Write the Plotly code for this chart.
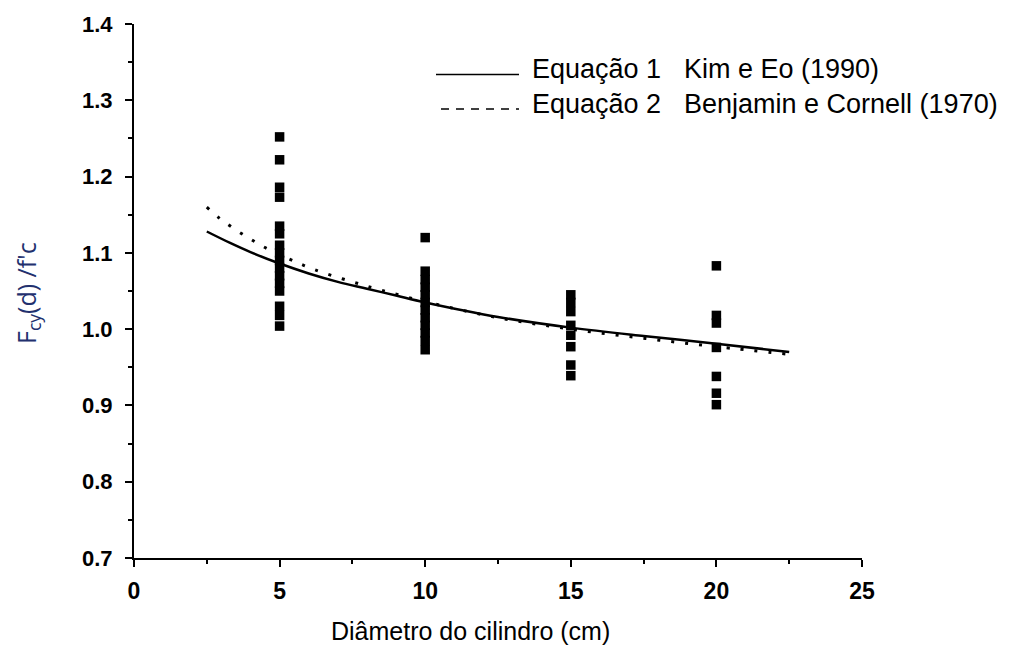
import plotly.graph_objects as go

# ---- data ----
diam_5 = [5] * 16
vals_5 = [1.252, 1.222, 1.186, 1.173, 1.135, 1.125, 1.11, 1.10, 1.09, 1.08,
          1.07, 1.06, 1.05, 1.03, 1.018, 1.004]
diam_10 = [10] * 12
vals_10 = [1.120, 1.076, 1.065, 1.055, 1.045, 1.035, 1.025, 1.015, 1.005,
           0.995, 0.985, 0.973]
diam_15 = [15] * 8
vals_15 = [1.045, 1.035, 1.023, 1.005, 0.992, 0.977, 0.953, 0.939]
diam_20 = [20] * 7
vals_20 = [1.083, 1.018, 1.008, 0.976, 0.938, 0.916, 0.901]

eq1_x = [2.5, 3.3, 4, 5, 6, 7, 8, 9, 10, 12.5, 15, 17.5, 20, 22.5]
eq1_y = [1.128, 1.113, 1.101, 1.086, 1.073, 1.062, 1.053, 1.044, 1.035, 1.016,
         1.002, 0.991, 0.981, 0.970]

eq2_x = [2.5, 2.95, 3.5, 4.0, 4.5, 5.5, 6.0, 6.5, 7.5, 8.5, 10, 12.5, 15, 17.5, 20, 22.5]
eq2_y = [1.160, 1.145, 1.130, 1.118, 1.107, 1.089, 1.081, 1.074, 1.062, 1.051,
         1.036, 1.015, 1.000, 0.988, 0.977, 0.967]

legend_labels = ["Equação 1", "Equação 2"]
legend_refs = ["Kim e Eo (1990)", "Benjamin e Cornell (1970)"]

x_ticks = [0, 5, 10, 15, 20, 25]
y_ticks = [0.7, 0.8, 0.9, 1.0, 1.1, 1.2, 1.3, 1.4]

x_title = "Diâmetro do cilindro (cm)"
y_title = "F<sub>cy</sub>(d) /f'c"

# plot-area geometry in pixels (for converting legend/title placement)
L, R, T, B = 134, 862, 18, 558
PW, PH = R - L, B - T


def px(xp):
    return (xp - L) / PW


def py(yp):
    return (B - yp) / PH


fig = go.Figure()

pts_x = diam_5 + diam_10 + diam_15 + diam_20
pts_y = vals_5 + vals_10 + vals_15 + vals_20
fig.add_trace(go.Scatter(x=pts_x, y=pts_y, mode="markers",
                         marker=dict(symbol="square", size=9.5, color="black",
                                     line=dict(width=0)),
                         showlegend=False, cliponaxis=False))
fig.add_trace(go.Scatter(x=eq2_x, y=eq2_y, mode="lines",
                         line=dict(color="black", width=3, dash="3px,11px", shape="spline"),
                         showlegend=False))
fig.add_trace(go.Scatter(x=eq1_x, y=eq1_y, mode="lines",
                         line=dict(color="black", width=2.5, shape="spline"),
                         showlegend=False))

# legend drawn manually (long sample lines, two text columns)
fig.add_shape(type="line", xref="paper", yref="paper",
              x0=px(436), x1=px(519), y0=py(69), y1=py(69),
              line=dict(color="black", width=1.5))
fig.add_shape(type="line", xref="paper", yref="paper",
              x0=px(441), x1=px(519), y0=py(104), y1=py(104),
              line=dict(color="black", width=1.5, dash="8px,7px"))
for i, (lab, ref) in enumerate(zip(legend_labels, legend_refs)):
    yy = py(64 + 35 * i)
    fig.add_annotation(text=lab, xref="paper", yref="paper",
                       x=px(530), y=yy, xanchor="left", yanchor="middle",
                       showarrow=False, font=dict(family="Liberation Sans", size=27, color="black"))
    fig.add_annotation(text=ref, xref="paper", yref="paper",
                       x=px(682), y=yy, xanchor="left", yanchor="middle",
                       showarrow=False, font=dict(family="Liberation Sans", size=27, color="black"))

# axis titles
fig.add_annotation(text=x_title, xref="paper", yref="paper",
                   x=px(470), y=py(632), xanchor="center", yanchor="middle",
                   showarrow=False, font=dict(family="Liberation Sans", size=25, color="black"))
fig.add_annotation(text=y_title, xref="paper", yref="paper", textangle=-90,
                   x=px(28), y=py(290), xanchor="center", yanchor="middle",
                   showarrow=False, font=dict(family="Open Sans", size=25, color="#22306e"))

fig.update_layout(
    width=1022, height=648,
    margin=dict(l=L, r=1022 - R, t=T, b=648 - B),
    paper_bgcolor="white", plot_bgcolor="white",
    showlegend=False,
)
fig.update_xaxes(
    range=[0, 25], tickvals=x_ticks, ticktext=[str(v) for v in x_ticks],
    showline=True, linecolor="black", linewidth=2, mirror=False,
    ticks="outside", ticklen=7, tickwidth=2, tickcolor="black",
    minor=dict(ticks="outside", ticklen=4, tickwidth=2, tickcolor="black", dtick=2.5),
    showgrid=False, zeroline=False,
    tickfont=dict(family="Liberation Sans", size=23, color="black", weight="bold"),
    ticklabelstandoff=4,
)
fig.update_yaxes(
    range=[0.7, 1.4], tickvals=y_ticks, ticktext=[f"{v:.1f}" for v in y_ticks],
    showline=True, linecolor="black", linewidth=2, mirror=False,
    ticks="outside", ticklen=7, tickwidth=2, tickcolor="black",
    minor=dict(ticks="outside", ticklen=4, tickwidth=2, tickcolor="black", dtick=0.05),
    showgrid=False, zeroline=False,
    tickfont=dict(family="Liberation Sans", size=22, color="black", weight="bold"),
    ticklabelstandoff=8,
)

fig.write_html("out.html")
